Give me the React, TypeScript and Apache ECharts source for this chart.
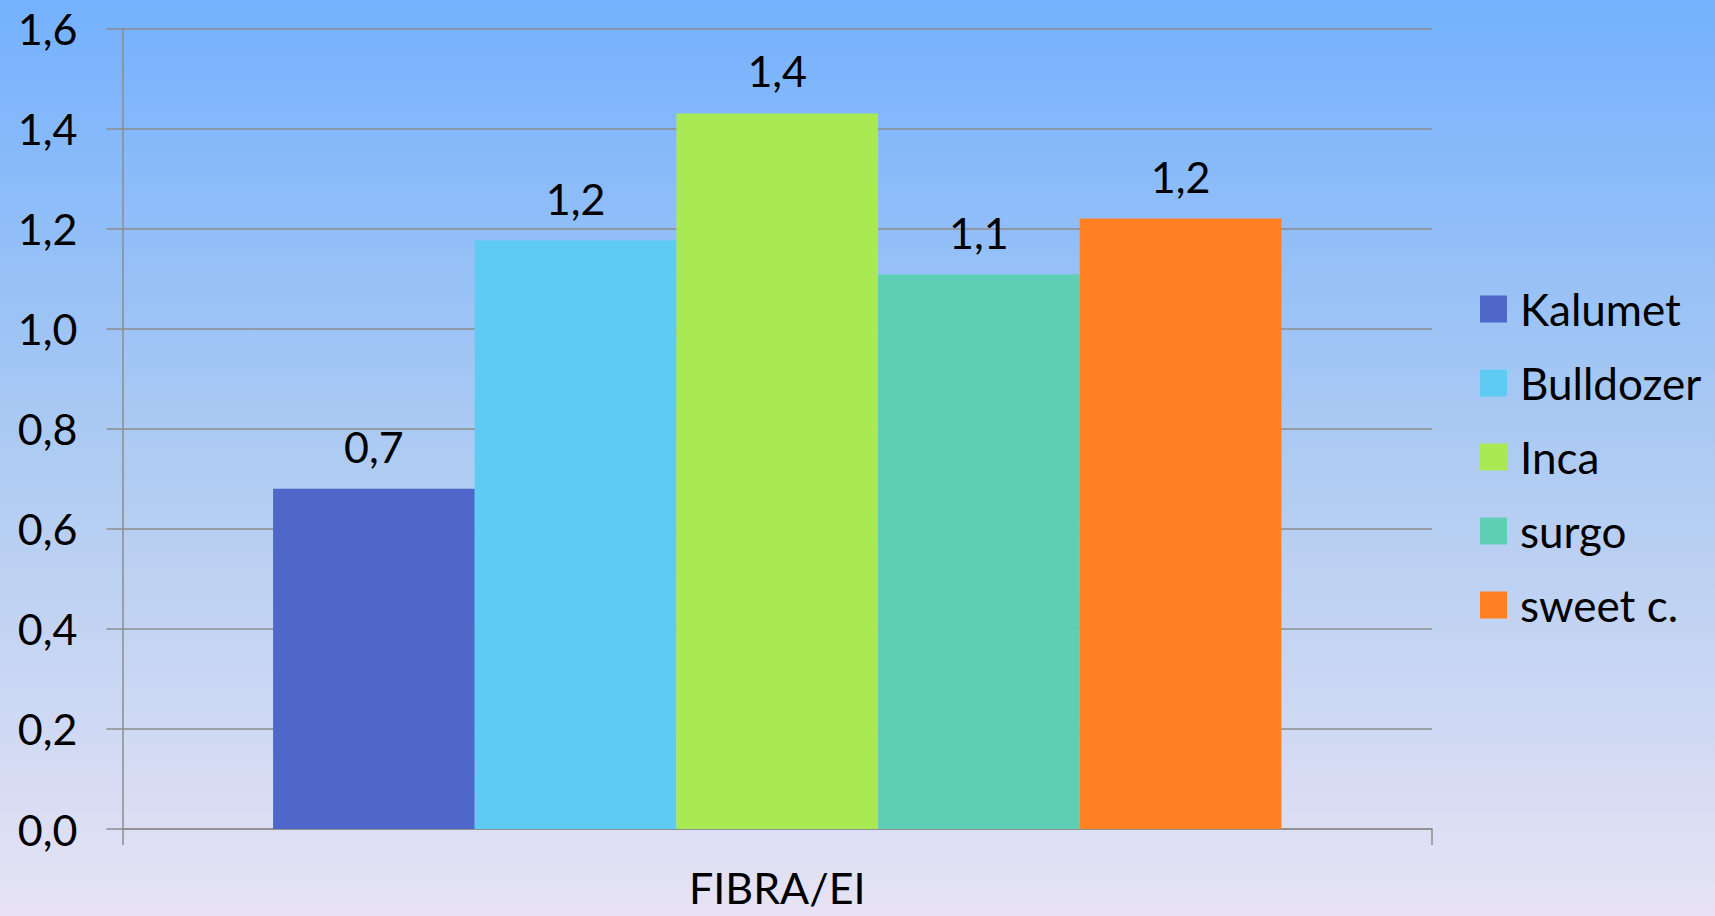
import React, { useEffect, useRef } from "react";
import * as echarts from "echarts";

// Category and series data
const categories = ["FIBRA/EI"];
const seriesNames = ["Kalumet", "Bulldozer", "Inca", "surgo", "sweet c."];
const seriesValues = [0.68, 1.176, 1.43, 1.108, 1.22];
const seriesColors = ["#4F67C8", "#5FCBF3", "#A9EA54", "#5ECFB4", "#FF8022"];

// Value axis range
const yMin = 0;
const yMax = 1.6;
const yInterval = 0.2;

const FONT = "Lato";
const FS = 43;

const fmt = (v: number) => v.toFixed(1).replace(".", ",");

export default function App() {
  const ref = useRef<HTMLDivElement>(null);

  useEffect(() => {
    if (!ref.current) return;
    const chart = echarts.init(ref.current, undefined, { renderer: "svg" });
    const gridColor = "#8c8c8c";

    chart.setOption({
      animation: false,
      backgroundColor: new echarts.graphic.LinearGradient(0, 0, 0, 1, [
        { offset: 0, color: "#74B1FE" },
        { offset: 0.5, color: "#AECBF2" },
        { offset: 1, color: "#E7E3F4" },
      ]),
      textStyle: { fontFamily: FONT },
      grid: { left: 122.5, right: 283, top: 28.4, bottom: 87, containLabel: false },
      legend: {
        orient: "vertical",
        left: 1480,
        top: 287,
        padding: 0,
        itemWidth: 27,
        itemHeight: 27,
        itemGap: 30,
        icon: "rect",
        data: seriesNames,
        textStyle: {
          fontFamily: FONT,
          fontSize: 44,
          lineHeight: 43,
          color: "#000",
          padding: [0, 0, 0, 8],
        },
      },
      xAxis: {
        type: "category",
        data: categories,
        axisLine: { show: true, lineStyle: { color: gridColor, width: 1.5 } },
        axisTick: { show: true, length: 16, lineStyle: { color: gridColor, width: 1.5 } },
        axisLabel: {
          fontFamily: FONT,
          fontSize: FS,
          lineHeight: 43,
          color: "#000",
          margin: 37,
        },
        splitLine: { show: false },
      },
      yAxis: {
        type: "value",
        min: yMin,
        max: yMax,
        interval: yInterval,
        axisLine: { show: true, lineStyle: { color: gridColor, width: 1.5 } },
        axisTick: { show: true, length: 16, lineStyle: { color: gridColor, width: 1.5 } },
        axisLabel: {
          fontFamily: FONT,
          fontSize: FS,
          color: "#000",
          margin: 45,
          formatter: (v: number) => fmt(v),
        },
        splitLine: { show: true, lineStyle: { color: gridColor, width: 1.5 } },
      },
      series: seriesNames.map((name, i) => ({
        name,
        type: "bar",
        data: [seriesValues[i]],
        barGap: "0%",
        barCategoryGap: "23%",
        itemStyle: { color: seriesColors[i] },
        label: {
          show: true,
          position: "top",
          distance: 21,
          fontFamily: FONT,
          fontSize: FS,
          lineHeight: 43,
          color: "#000",
          formatter: (p: any) => fmt(p.value),
        },
      })),
    });

    return () => chart.dispose();
  }, []);

  return (
    <div
      ref={ref}
      style={{ position: "absolute", left: 0, top: 0, width: 1715, height: 916 }}
    />
  );
}
